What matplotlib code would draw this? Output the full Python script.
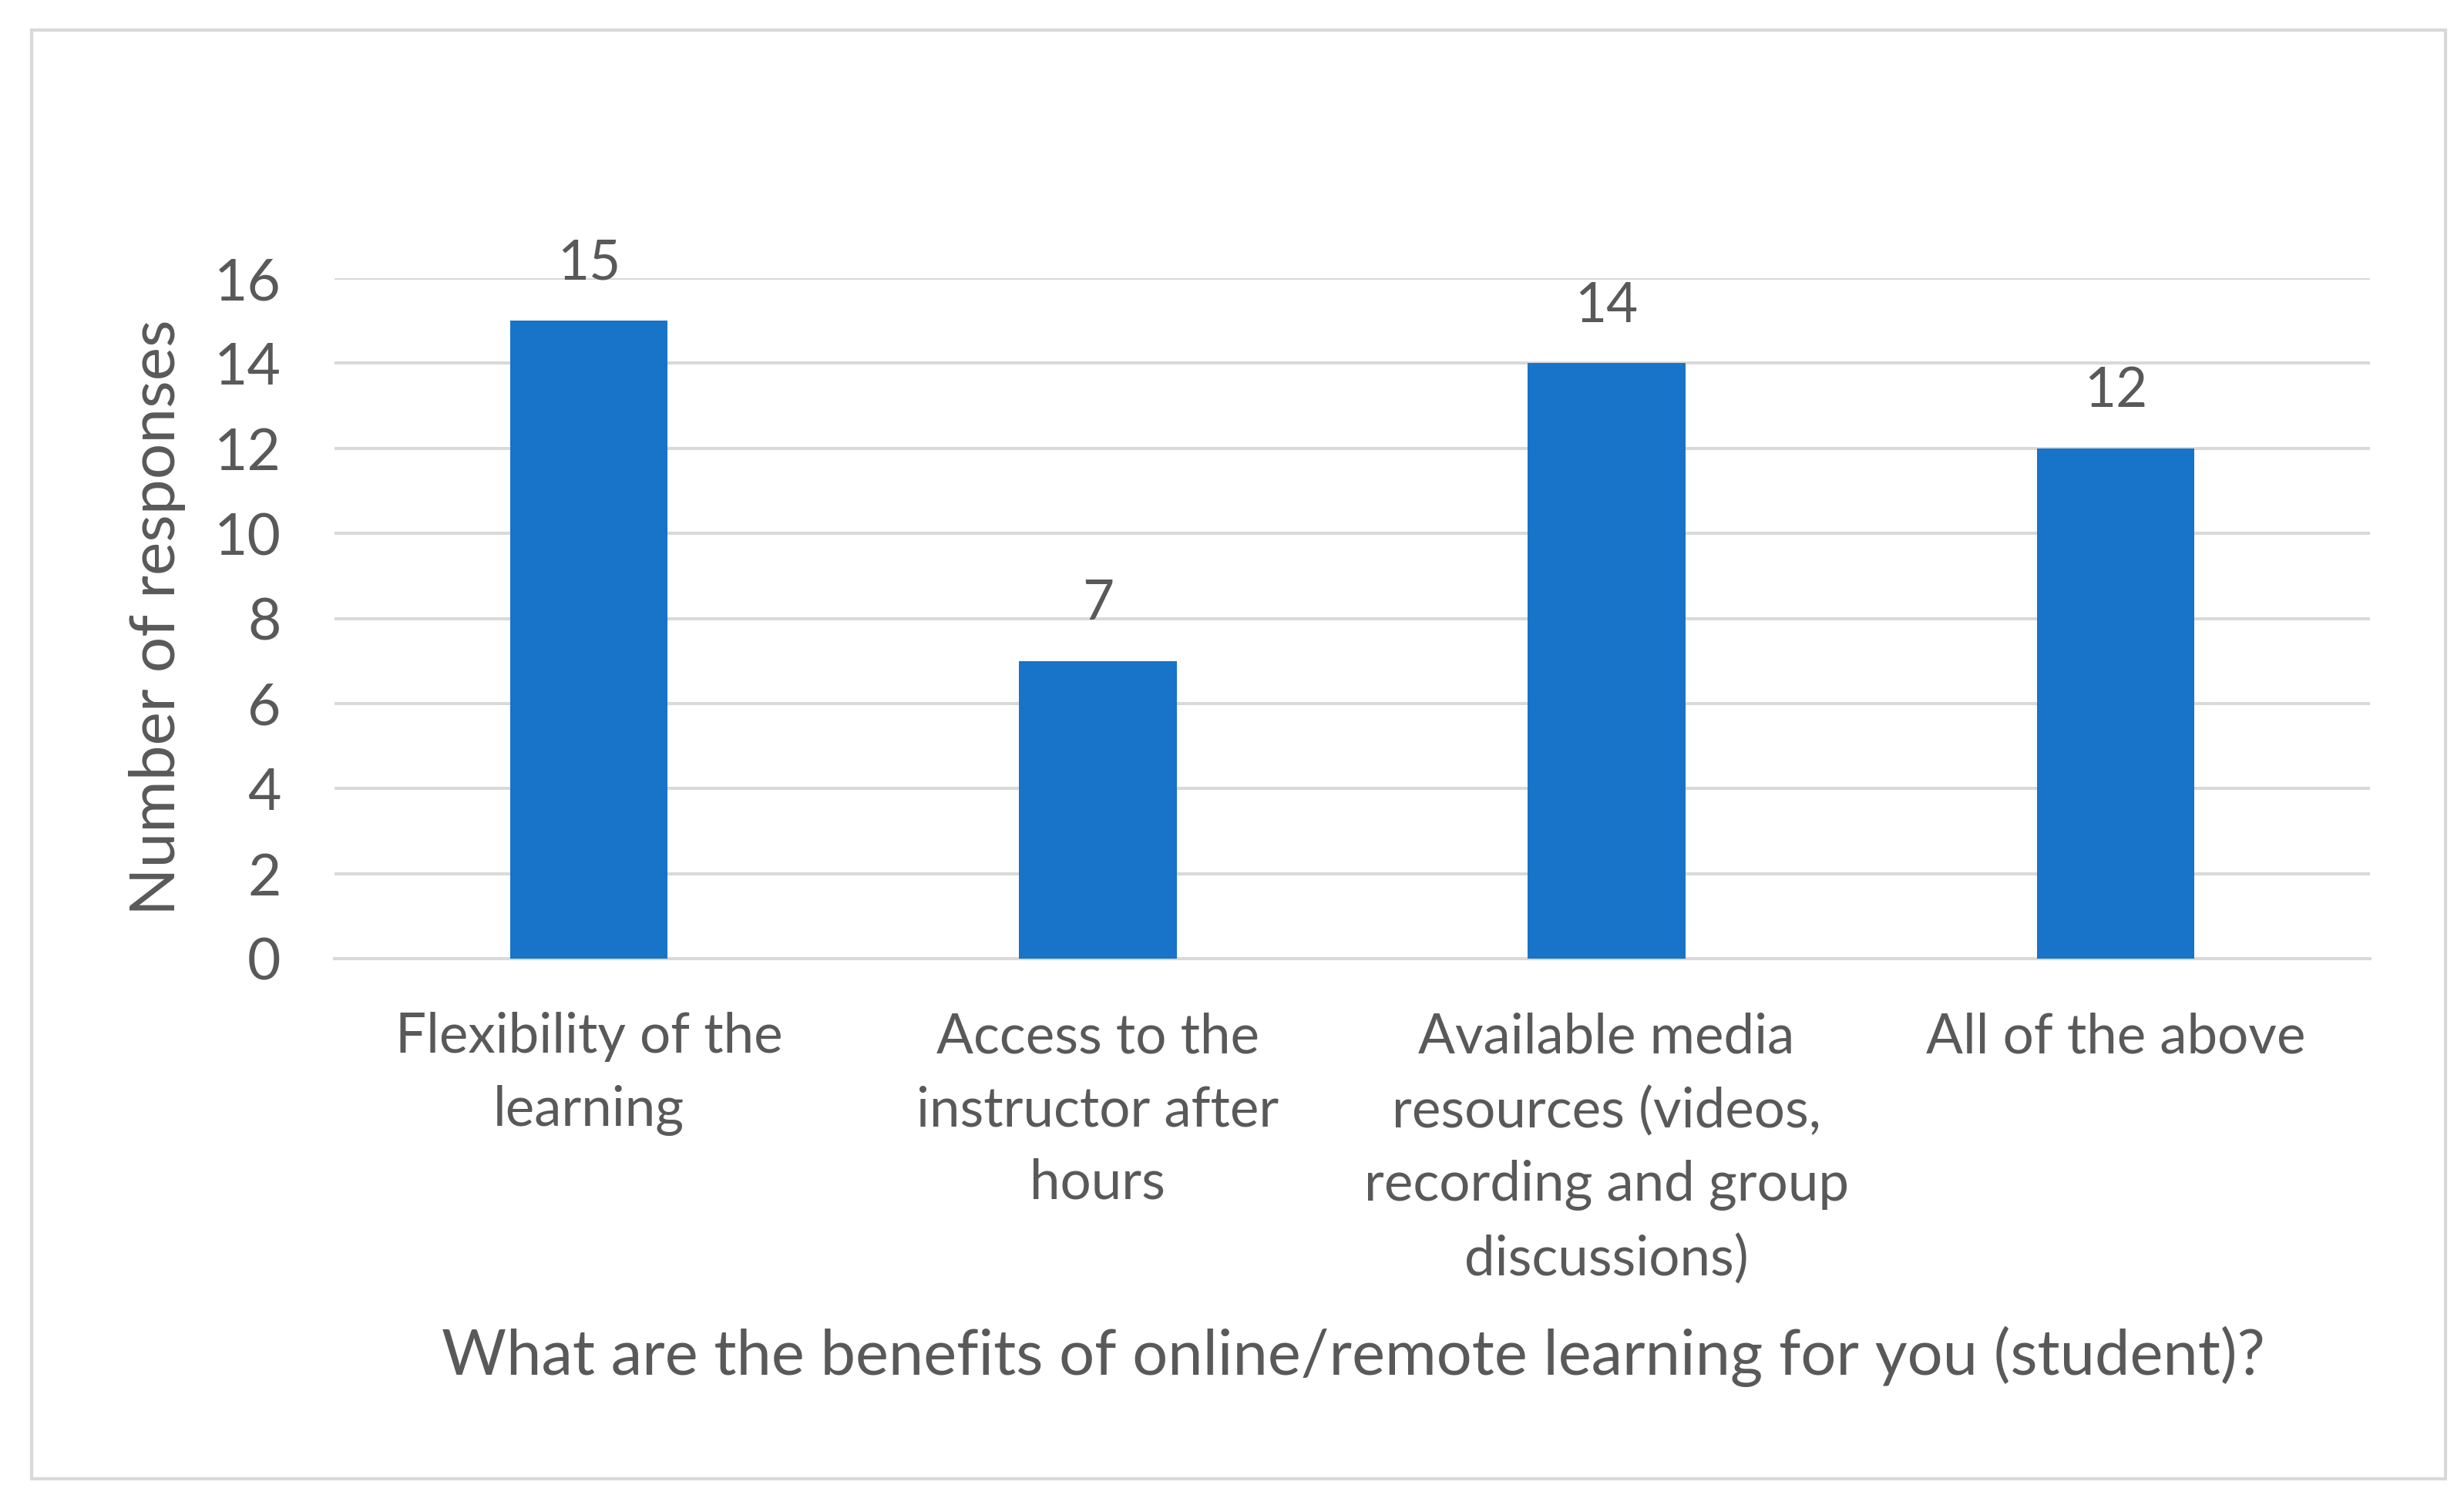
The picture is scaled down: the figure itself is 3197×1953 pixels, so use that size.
import matplotlib
matplotlib.use("Agg")
import matplotlib.pyplot as plt
from matplotlib.patches import Rectangle

categories = [
    "Flexibility of the\nlearning",
    "Access to the\ninstructor after\nhours",
    "Available media\nresources (videos,\nrecording and group\ndiscussions)",
    "All of the above",
]
values = [15, 7, 14, 12]
y_ticks = [0, 2, 4, 6, 8, 10, 12, 14, 16]
x_title = "What are the benefits of online/remote learning for you (student)?"
y_title = "Number of responses"

TEXT = "#595959"
GRID = "#d9d9d9"
BAR = "#1874C8"

plt.rcParams["font.family"] = ["Lato", "DejaVu Sans"]

W, H = 3197, 1953
dpi = 100
fig = plt.figure(figsize=(W / dpi, H / dpi), dpi=dpi)
fig.patch.set_facecolor("white")

# outer chart border
fig.patches.append(Rectangle((41 / W, 1 - 1919 / H), (3173 - 41) / W, (1919 - 39) / H,
                             transform=fig.transFigure, fill=False,
                             edgecolor=GRID, linewidth=3.0))

left, right = 434 / W, 3075 / W
bottom, top = 1 - 1244 / H, 1 - 361 / H
ax = fig.add_axes([left, bottom, right - left, top - bottom])

x = list(range(len(categories)))
bars = ax.bar(x, values, width=0.31, color=BAR, zorder=3)
ax.set_xlim(-0.5, len(categories) - 0.5)
ax.set_ylim(0, 16)
ax.set_yticks(y_ticks)
ax.set_yticklabels([str(t) for t in y_ticks], fontsize=54, color=TEXT)
ax.set_xticks(x)
ax.set_xticklabels(categories, fontsize=51, color=TEXT, linespacing=1.56, va="top")
ax.tick_params(axis="both", length=0)
ax.tick_params(axis="y", pad=50)
ax.tick_params(axis="x", pad=50)

ax.yaxis.grid(True, color=GRID, linewidth=2.9, zorder=0)
ax.set_axisbelow(True)
for s in ["top", "right", "left"]:
    ax.spines[s].set_visible(False)
ax.spines["bottom"].set_color(GRID)
ax.spines["bottom"].set_linewidth(2.9)
ax.spines["bottom"].set_zorder(1)

for rect, v in zip(bars, values):
    ax.annotate(str(v), (rect.get_x() + rect.get_width() / 2, v),
                xytext=(0, 30), textcoords="offset points",
                ha="center", va="bottom", fontsize=51, color=TEXT)

fig.text((282 + 1440) / 2 / 1568, 1 - 1760 / H, x_title, ha="center", va="center",
         fontsize=58.5, color=TEXT)
fig.text(204 / W, 1 - 801 / H, y_title, ha="center", va="center", rotation=90,
         fontsize=59, color=TEXT)

fig.savefig("out.png", dpi=dpi, facecolor="white")
